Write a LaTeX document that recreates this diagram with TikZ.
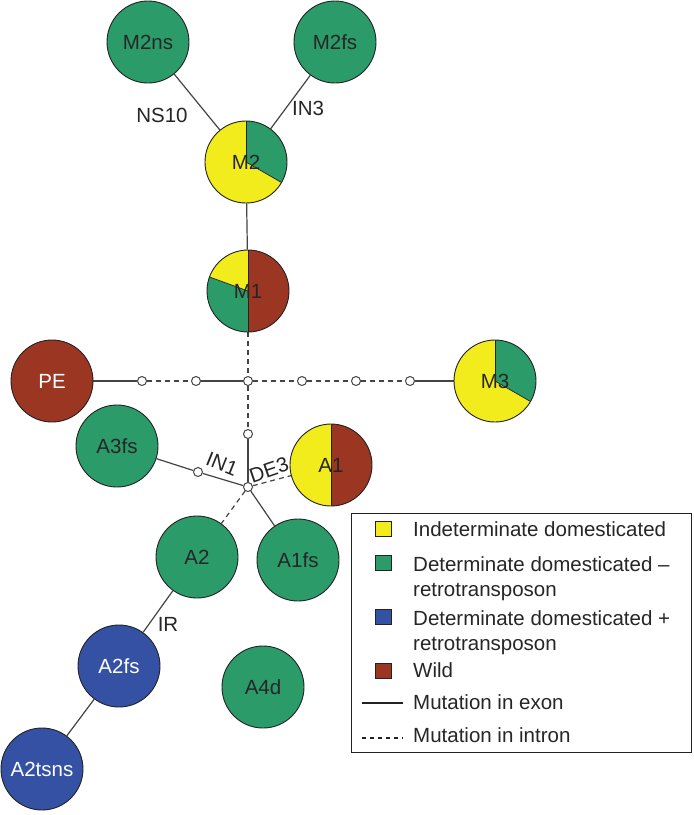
\documentclass[tikz,border=0pt]{standalone}
\usepackage{fontspec}
\newfontfamily\arialf{Liberation Sans}
\usetikzlibrary{backgrounds}
\definecolor{yel}{HTML}{F3EC1C}
\definecolor{grn}{HTML}{2C9B6A}
\definecolor{brn}{HTML}{9A3622}
\definecolor{blu}{HTML}{3451A3}
\definecolor{outl}{HTML}{222222}
\definecolor{lin}{HTML}{444444}
\newcommand{\pieslice}[5]{\fill[#5] (#1) -- ++(#3:#2) arc[start angle=#3, end angle=#4, radius=#2] -- cycle;}
\newcommand{\pieline}[3]{\draw[outl, line width=0.7pt] (#1) -- ++(#3:#2);}
\tikzset{
  txt/.style={font=\arialf\fontsize{20.5}{25}\selectfont},
  hap/.style={circle, draw=outl, line width=0.9pt, minimum size=82pt, inner sep=0pt, txt},
  gnode/.style={hap, fill=grn, text=black!85},
  bnode/.style={hap, fill=blu, text=white},
  rnode/.style={hap, fill=brn, text=white},
  pnode/.style={hap, text=black!85},
  dot/.style={circle, draw=lin, fill=white, minimum size=9pt, inner sep=0pt, line width=1pt},
  exon/.style={draw=lin, line width=1.2pt},
  intron/.style={draw=lin, line width=1.2pt, dash pattern=on 5pt off 4pt},
  lbl/.style={txt, text=black!85, inner sep=0pt},
  legsq/.style={draw=outl, line width=0.6pt, minimum width=16pt, minimum height=15pt, inner sep=0pt},
}
\begin{document}
\begin{tikzpicture}[x=1pt,y=1pt]
\useasboundingbox (0,0) rectangle (694,-815);

% nodes
\node[gnode] (M2ns) at (148,-42) {M2ns};
\node[gnode] (M2fs) at (335,-42) {M2fs};
\node[pnode] (M2) at (246,-162) {M2};
\node[pnode] (M1) at (248,-291) {M1};
\node[rnode] (PE) at (52,-381) {PE};
\node[pnode] (M3) at (495,-381) {M3};
\node[dot] (c1) at (142,-381) {};
\node[dot] (c2) at (196,-381) {};
\node[dot] (c3) at (248,-381) {};
\node[dot] (c4) at (302,-381) {};
\node[dot] (c5) at (356,-381) {};
\node[dot] (c6) at (410,-381) {};
\node[dot] (c7) at (248,-434) {};
\node[dot] (hub) at (248,-487) {};
\node[gnode] (A3fs) at (117,-446) {A3fs};
\node[dot] (c8) at (198,-472) {};
\node[pnode] (A1) at (331,-465) {A1};
\node[gnode] (A2) at (197,-557) {A2};
\node[gnode] (A1fs) at (298,-560) {A1fs};
\node[bnode] (A2fs) at (119,-666) {A2fs};
\node[bnode] (A2tsns) at (42,-769) {A2tsns};
\node[gnode] (A4d) at (263,-687) {A4d};

\begin{scope}[on background layer]
  \fill[white] (0,0) rectangle (694,-815);
  % pies
  \fill[yel] (M2.center) circle (41);
  \pieslice{M2.center}{41}{90}{-30}{grn}
  \pieline{M2.center}{41}{90}\pieline{M2.center}{41}{-30}
  \fill[yel] (M3.center) circle (41);
  \pieslice{M3.center}{41}{90}{-30}{grn}
  \pieline{M3.center}{41}{90}\pieline{M3.center}{41}{-30}
  \pieslice{M1.center}{41}{90}{-90}{brn}
  \pieslice{M1.center}{41}{90}{160}{yel}
  \pieslice{M1.center}{41}{160}{270}{grn}
  \pieline{M1.center}{41}{90}\pieline{M1.center}{41}{270}\pieline{M1.center}{41}{160}
  \pieslice{A1.center}{41}{90}{270}{yel}
  \pieslice{A1.center}{41}{90}{-90}{brn}
  \pieline{A1.center}{41}{90}\pieline{A1.center}{41}{270}
  % edges
  \path[exon] (M2ns) -- (M2);
  \path[exon] (M2fs) -- (M2);
  \path[exon] (M2) -- (M1);
  \path[intron] (M1) -- (c3);
  \path[exon] (PE) -- (c1);
  \path[intron] (c1) -- (c2);
  \path[exon] (c2) -- (c3);
  \path[intron] (c3) -- (c4);
  \path[intron] (c4) -- (c5);
  \path[intron] (c5) -- (c6);
  \path[exon] (c6) -- (M3);
  \path[intron] (c3) -- (c7);
  \path[exon] (c7) -- (hub);
  \path[exon] (A3fs) -- (c8);
  \path[exon] (c8) -- (hub);
  \path[intron] (hub) -- (A1);
  \path[intron] (hub) -- (A2);
  \path[exon] (hub) -- (A1fs);
  \path[exon] (A2) -- (A2fs);
  \path[exon] (A2fs) -- (A2tsns);
\end{scope}

% edge labels
\node[lbl] (lNS) at (162,-115) {NS10};
\node[lbl] (lIN3) at (308,-108) {IN3};
\node[lbl, rotate=-22] (lIN1) at (222,-464) {IN1};
\node[lbl, rotate=19] (lDE3) at (269,-470) {DE3};
\node[lbl] (lIR) at (168,-624) {IR};

% legend
\node[draw=outl, line width=0.9pt, minimum width=340pt, minimum height=239pt, inner sep=0pt, anchor=north west] (leg) at (351,-513) {};
\node[legsq, fill=yel] (s1) at (383,-529) {};
\node[legsq, fill=grn] (s2) at (383,-563) {};
\node[legsq, fill=blu] (s3) at (383,-617) {};
\node[legsq, fill=brn] (s4) at (383,-671) {};
\node[lbl, anchor=base west] (t1) at (413,-536) {Indeterminate domesticated};
\node[lbl, anchor=base west] (t2) at (413,-571) {Determinate domesticated –};
\node[lbl, anchor=base west] (t2b) at (413,-596) {retrotransposon};
\node[lbl, anchor=base west] (t3) at (413,-625) {Determinate domesticated +};
\node[lbl, anchor=base west] (t3b) at (413,-650) {retrotransposon};
\node[lbl, anchor=base west] (t4) at (413,-677) {Wild};
\node[lbl, anchor=base west] (t5) at (413,-709) {Mutation in exon};
\node[lbl, anchor=base west] (t6) at (413,-742) {Mutation in intron};
\coordinate (e1) at (362,-703);
\coordinate (e2) at (403,-703);
\coordinate (i1) at (362,-738);
\coordinate (i2) at (403,-738);
\draw[draw=outl, line width=1.2pt] (e1) -- (e2);
\draw[draw=outl, line width=1.1pt, dash pattern=on 4pt off 4pt] (i1) -- (i2);
\end{tikzpicture}
\end{document}
